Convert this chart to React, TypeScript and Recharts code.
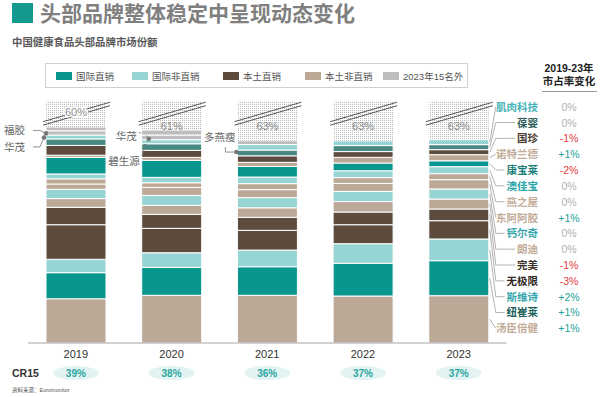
import React from 'react';
import { BarChart, Bar, XAxis, YAxis } from 'recharts';

// bottom -> top, same order in every year (2023 ranking)
const BRANDS = ['汤臣倍健', '纽崔莱', '斯维诗', '无极限', '完美', '朗迪', '钙尔奇', '东阿阿胶', '燕之屋', '澳佳宝', '康宝莱', '诺特兰德', '国珍', '葆婴', '肌肉科技'];
const CHANNELS = ['本土非直销', '国际直销', '国际非直销', '本土直销', '本土直销', '本土非直销', '国际非直销', '本土非直销', '本土非直销', '国际非直销', '国际直销', '本土非直销', '本土直销', '葆婴', '国际非直销'];
const CHANGES = ['+1%', '+1%', '+2%', '-3%', '-1%', '0%', '0%', '+1%', '0%', '0%', '-2%', '+1%', '-1%', '0%', '0%'];

const YEARS = ['2019', '2020', '2021', '2022', '2023'];
const share2019 = [8.03, 4.74, 2.43, 6.28, 3.16, 1.58, 1.69, 0.96, 0.94, 0.89, 3.0, 0.4, 1.78, 1.18, 0.71];
const share2020 = [8.66, 5.08, 2.65, 4.43, 2.54, 1.63, 1.82, 1.45, 0.84, 0.98, 3.09, 0.54, 1.27, 1.2, 0.73];
const share2021 = [8.66, 5.19, 3.03, 3.58, 2.36, 1.73, 1.85, 1.45, 1.09, 1.2, 1.91, 0.76, 1.18, 1.05, 1.0];
const share2022 = [8.53, 5.96, 3.54, 3.45, 2.31, 1.89, 1.85, 1.45, 1.05, 1.25, 1.4, 1.04, 1.04, 1.09, 0.84];
const share2023 = [8.59, 6.36, 3.94, 3.32, 2.12, 1.82, 1.82, 1.69, 1.09, 1.27, 1.07, 1.11, 0.91, 0.91, 0.91];

// brands that dropped out of the 2023 top 15
const OUT_BRANDS = ['华茂', '福胶', '碧生源', '多燕瘦'];
const outHuamao = [0.76, 0.85, 0, 0, 0];
const outFujiao = [0.69, 0, 0, 0, 0];
const outBishengyuan = [0, 0.91, 0, 0, 0];
const outDuoyanshou = [0, 0, 0.69, 0, 0];

const CR15 = ['39%', '38%', '36%', '37%', '37%'];
const OTHERS = ['60%', '61%', '63%', '63%', '63%'];

// broken axis: the "others" block is drawn compressed up to this level
const BREAK_TOP = 44;

const COLORS: Record<string, string> = {
  国际直销: '#08968f',
  国际非直销: '#97d4d4',
  本土直销: '#5d4c3e',
  本土非直销: '#bca896',
  葆婴: '#478883',
  out: '#bdbdbd',
};
const TEXT_COLORS = ['#c2ab98', '#1d5f5b', '#35a7ad', '#2e2620', '#3a2f28', '#c2ab98', '#35a7ad', '#c2ab98', '#c2ab98', '#2aa6aa', '#1b7d78', '#c2ab98', '#4a3d33', '#2f5e5a', '#49b4b8'];

const shares = [share2019, share2020, share2021, share2022, share2023];
const outShares = [outHuamao, outFujiao, outBishengyuan, outDuoyanshou];

const chartData = YEARS.map((year, yi) => {
  const row: Record<string, any> = { year };
  let sum = 0;
  BRANDS.forEach((b, bi) => {
    row[b] = shares[yi][bi];
    sum += shares[yi][bi];
  });
  OUT_BRANDS.forEach((b, bi) => {
    row[b] = outShares[bi][yi];
    sum += outShares[bi][yi];
  });
  row.rest = BREAK_TOP - sum;
  return row;
});

const FONT = '"Liberation Sans", Arial, "Noto Sans CJK SC", sans-serif';
const BASE_Y = 343;
const RIGHT_TOP = 106.7;
const RIGHT_STEP = 15.83;
const LABEL_RIGHT = 538;

// leader notes for the dropped-out brands (offsets from the segment's left-middle)
const outNotes = [
  { b: 0, yi: 0, tx: -21, ty: 14, pts: [[-13, 14], [-6, 14], [-2, 4.7]], dot: true },
  { b: 1, yi: 0, tx: -21, ty: 1.5, pts: [[-13, 1.5], [-6, 1.5], [0, 4.5]], dot: true },
  { b: 0, yi: 1, tx: -5, ty: -1.3, pts: [[-3, -4.5], [3, -4.5], [7, 1.7]], dot: true },
  { b: 2, yi: 1, tx: -2, ty: 28, pts: [[0, 23], [2, 20], [2, 12], [5, 12]], dot: false },
  { b: 3, yi: 2, tx: -2, ty: -5.8, pts: [[-12, 4.4], [-12, 9.4], [-1, 9.4]], dot: true },
];

const changeColor = (c: string) => (c.startsWith('+') ? '#1a9f97' : c.startsWith('-') ? '#e23b3b' : '#b0b0b0');

const brandShape = (bi: number) => (props: any) => {
  const { x, y, width, height, fill, index } = props;
  if (!height || height <= 0) return <g />;
  const cy = y + height / 2;
  const rank = BRANDS.length - 1 - bi;
  const ly = RIGHT_TOP + rank * RIGHT_STEP;
  const name = BRANDS[bi];
  const left = LABEL_RIGHT - name.length * 10.5;
  const bend = x + width + 7;
  return (
    <g>
      <rect x={x} y={y} width={width} height={height} fill={fill} stroke="#fff" strokeWidth={1} />
      {index === 4 && (
        <g>
          <polyline
            points={`${x + width + 1},${cy} ${bend},${ly} ${Math.max(bend, left - 2)},${ly}`}
            fill="none"
            stroke="#a0a0a0"
            strokeWidth={0.8}
          />
          <text x={LABEL_RIGHT} y={ly} textAnchor="end" dominantBaseline="central" fontSize={10.5} fontWeight="bold" fill={TEXT_COLORS[bi]}>
            {name}
          </text>
          <text x={569} y={ly} textAnchor="middle" dominantBaseline="central" fontSize={10.5} fill={changeColor(CHANGES[bi])}>
            {CHANGES[bi]}
          </text>
        </g>
      )}
    </g>
  );
};

const outShape = (bi: number) => (props: any) => {
  const { x, y, width, height, fill, index } = props;
  if (!height || height <= 0) return <g />;
  const cy = y + height / 2;
  const notes = outNotes.filter((n) => n.b === bi && n.yi === index);
  return (
    <g>
      <rect x={x} y={y} width={width} height={height} fill={fill} stroke="#fff" strokeWidth={1} />
      {notes.map((n, k) => {
        const last = n.pts[n.pts.length - 1];
        return (
          <g key={k}>
            <polyline points={n.pts.map((p) => `${x + p[0]},${cy + p[1]}`).join(' ')} fill="none" stroke="#777" strokeWidth={0.8} />
            {n.dot && <circle cx={x + last[0]} cy={cy + last[1]} r={2.3} fill="#777" />}
            <text x={x + n.tx} y={cy + n.ty} textAnchor="end" dominantBaseline="central" fontSize={10.5} fill="#666">
              {OUT_BRANDS[bi]}
            </text>
          </g>
        );
      })}
    </g>
  );
};

const restShape = (props: any) => {
  const { x, y, width, height, index } = props;
  const short = height < 28;
  const ty = short ? y + 11.5 : y + 25;
  return (
    <g>
      <rect x={x} y={y} width={width} height={height} fill="url(#dots)" />
      <line x1={x - 3} y1={y + 21} x2={x + width + 4} y2={y + 1.5} stroke="#555" strokeWidth={1} />
      <line x1={x - 3} y1={y + 24.5} x2={x + width + 4} y2={y + 5} stroke="#555" strokeWidth={1} />
      <text
        x={x + width / 2}
        y={ty}
        textAnchor="middle"
        dominantBaseline="central"
        fontSize={11}
        fill="#8c8c8c"
        stroke={short ? '#fff' : 'none'}
        strokeWidth={3}
        paintOrder="stroke"
      >
        {OTHERS[index]}
      </text>
    </g>
  );
};

const YearTick = (props: any) => {
  const { x, payload, index } = props;
  return (
    <g>
      <text x={x} y={BASE_Y + 11} textAnchor="middle" dominantBaseline="central" fontSize={11} fill="#333">
        {payload.value}
      </text>
      <ellipse cx={x} cy={373} rx={23} ry={7} fill="#e2f3f2" />
      <text x={x} y={373} textAnchor="middle" dominantBaseline="central" fontSize={10} fontWeight="bold" fill="#2aa6a0">
        {CR15[index]}
      </text>
    </g>
  );
};

const legendItems = [
  { label: '国际直销', color: COLORS['国际直销'], x: 56 },
  { label: '国际非直销', color: COLORS['国际非直销'], x: 132 },
  { label: '本土直销', color: COLORS['本土直销'], x: 223 },
  { label: '本土非直销', color: COLORS['本土非直销'], x: 305 },
  { label: '2023年15名外', color: COLORS.out, x: 383 },
];

export default function App() {
  return (
    <div style={{ position: 'absolute', left: 0, top: 0, width: 600, height: 397, background: '#fff', fontFamily: FONT, overflow: 'hidden' }}>
      <div style={{ position: 'absolute', left: 12, top: 3, width: 21, height: 20, background: '#13998f' }} />
      <div style={{ position: 'absolute', left: 40, top: 0, fontSize: 21, lineHeight: '27px', fontWeight: 'bold', color: '#7f7f7f', whiteSpace: 'nowrap' }}>
        头部品牌整体稳定中呈现动态变化
      </div>
      <div style={{ position: 'absolute', left: 12, top: 36, fontSize: 10.4, lineHeight: '14px', fontWeight: 'bold', color: '#595959', whiteSpace: 'nowrap' }}>
        中国健康食品头部品牌市场份额
      </div>

      <div style={{ position: 'absolute', left: 45, top: 63, width: 423, height: 25, border: '1px solid #d0d0d0', boxSizing: 'border-box' }} />
      {legendItems.map((it) => (
        <div key={it.label} style={{ position: 'absolute', left: it.x, top: 70, height: 12, display: 'flex', alignItems: 'center', whiteSpace: 'nowrap' }}>
          <div style={{ width: 16, height: 8, background: it.color, marginRight: 4 }} />
          <span style={{ fontSize: 9.5, color: '#555' }}>{it.label}</span>
        </div>
      ))}

      <div style={{ position: 'absolute', left: 538, top: 62, width: 62, textAlign: 'center', fontSize: 10.5, lineHeight: '13px', fontWeight: 'bold', color: '#222' }}>
        2019-23年
        <br />
        市占率变化
      </div>
      <div style={{ position: 'absolute', left: 542, top: 91, width: 55, height: 1, background: '#999' }} />

      <div style={{ position: 'absolute', left: 12, top: 366, fontSize: 10.5, lineHeight: '14px', fontWeight: 'bold', color: '#333' }}>CR15</div>
      <div style={{ position: 'absolute', left: 12, top: 387, fontSize: 5.5, lineHeight: '7px', color: '#555', whiteSpace: 'nowrap' }}>资料来源：Euromonitor</div>

      <div style={{ position: 'absolute', left: 0, top: 0 }}>
        <BarChart width={600} height={397} data={chartData} margin={{ top: 100.7, left: 28, right: 93.5, bottom: 24 }} barSize={60}>
          <defs>
            <pattern id="dots" width="2" height="2" patternUnits="userSpaceOnUse">
              <rect width="2" height="2" fill="#fff" />
              <rect width="1" height="1" fill="#b8b8b8" />
            </pattern>
          </defs>
          <XAxis
            dataKey="year"
            height={30}
            axisLine={{ stroke: '#a6a6a6' }}
            tickLine={false}
            tickSize={0}
            interval={0}
            tick={<YearTick />}
          />
          <YAxis hide domain={[0, BREAK_TOP]} allowDataOverflow />
          {BRANDS.map((b, bi) => (
            <Bar key={b} dataKey={b} stackId="s" fill={COLORS[CHANNELS[bi]]} isAnimationActive={false} shape={brandShape(bi)} />
          ))}
          {OUT_BRANDS.map((b, bi) => (
            <Bar key={b} dataKey={b} stackId="s" fill={COLORS.out} isAnimationActive={false} shape={outShape(bi)} />
          ))}
          <Bar dataKey="rest" stackId="s" fill="#eee" isAnimationActive={false} shape={restShape} />
        </BarChart>
      </div>
    </div>
  );
}
